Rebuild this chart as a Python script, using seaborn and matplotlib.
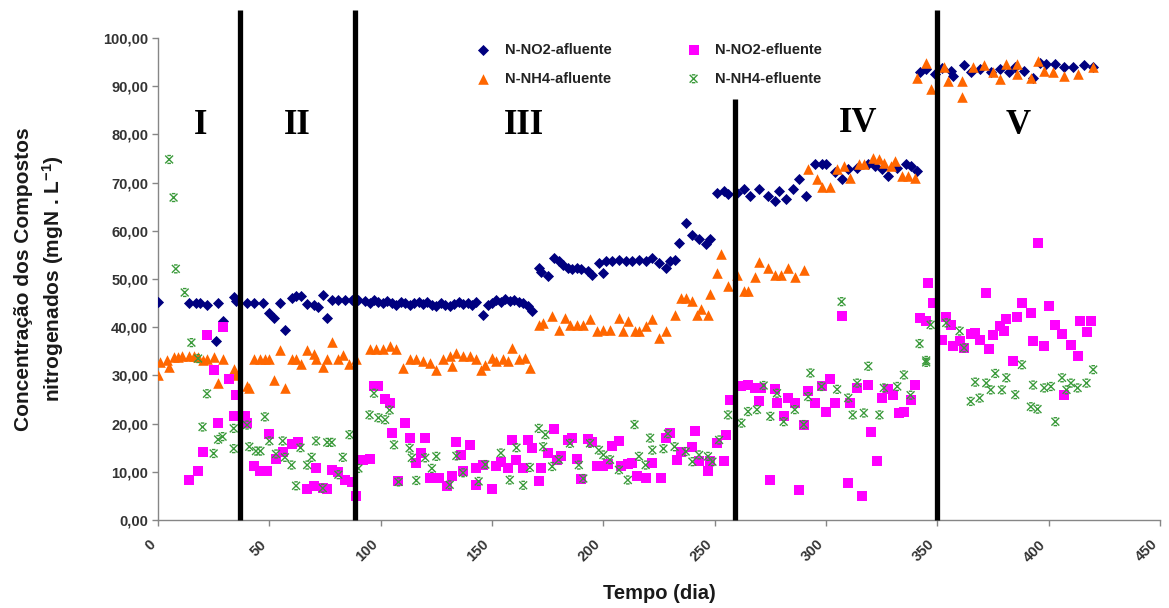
import matplotlib
matplotlib.use("Agg")
import matplotlib.pyplot as plt
from matplotlib.path import Path
from matplotlib.transforms import ScaledTranslation
import pandas as pd
import seaborn as sns

# ---- N-NO2 afluente ----
no2_afl_dia = [0, 14, 17, 19, 22, 26, 27, 29, 34, 35, 40, 43, 47, 50, 52, 55, 57, 60, 62, 64,
               67, 70, 72, 74, 76, 78, 81, 84, 87, 90,
               93, 95, 97, 99, 101, 103, 105, 107, 109, 111, 113, 115, 117, 119, 121, 123, 125,
               127, 129, 131, 133, 135, 137, 139, 141, 143, 146, 148, 150, 152, 154, 156, 158,
               160, 162, 164, 166, 168,
               171, 172, 175, 178, 180, 182, 184, 186, 188, 190, 193, 195, 198, 200, 201, 204,
               207, 210, 213, 216, 219, 222, 225, 228, 230, 232, 234, 237, 240, 243, 246, 248,
               251, 254, 256,
               260, 263, 266, 270, 274, 277, 279, 282, 285, 288, 291, 295, 298, 300, 304, 307,
               310, 314, 319, 322, 325, 328, 332, 336, 338, 341,
               342, 345, 349, 352, 356, 357, 362, 365, 369, 374, 378, 382, 385, 389, 393, 396,
               399, 403, 407, 411, 416, 420]
no2_afl_val = [45.3, 45.0, 45.0, 45.0, 44.6, 37.1, 45.0, 41.2, 46.3, 45.4, 45.0, 45.0, 45.0, 43.0,
               41.9, 45.0, 39.5, 46.0, 46.5, 46.4,
               44.8, 44.6, 44.1, 46.6, 41.9, 45.6, 45.6, 45.6, 45.6, 45.6,
               45.4, 45.0, 45.6, 45.3, 45.0, 45.4, 45.0, 44.6, 45.3, 45.0, 44.6, 45.0, 45.3, 44.8,
               45.2, 44.6, 44.5, 45.0, 44.6, 44.3, 44.8, 45.2, 44.8, 45.0, 44.6, 45.2, 42.6, 44.6,
               45.0, 45.6, 45.3, 45.8, 45.4, 45.6, 45.3, 45.0, 44.3, 43.3,
               52.3, 51.5, 50.7, 54.4, 53.7, 53.0, 52.3, 52.0, 52.3, 52.0, 51.6, 50.9, 53.3, 51.3,
               53.7, 53.7, 54.0, 53.7, 53.7, 54.0, 53.7, 54.4, 53.3, 52.3, 53.7, 54.0, 57.5, 61.7,
               59.2, 58.2, 57.2, 58.2, 67.9, 68.3, 67.6,
               67.9, 68.6, 67.2, 68.6, 67.2, 66.2, 68.2, 66.5, 68.6, 70.7, 67.2, 73.8, 73.8, 73.8,
               72.1, 70.7, 72.8, 73.1, 73.8, 73.5, 72.8, 71.4, 73.1, 73.8, 73.5, 72.4,
               92.9, 93.5, 92.5, 93.8, 93.2, 92.2, 94.5, 93.0, 93.5, 92.9, 93.5, 92.9, 94.0, 93.2,
               91.8, 94.9, 94.6, 94.6, 93.9, 93.9, 94.3, 93.9]

# ---- N-NH4 afluente ----
nh4_afl_dia = [0, 1, 4, 5, 7, 9, 11, 14, 16, 18, 20, 22, 25, 27, 29, 34, 35, 40, 41, 43, 46, 48,
               50, 52, 55, 57, 60, 62, 64, 67, 70, 71, 74, 76, 78, 81, 83, 86, 89,
               95, 98, 101, 104, 107, 110, 113, 116, 119, 122, 125, 128, 131, 132, 134, 137, 140,
               143, 145, 147, 150, 152, 155, 157, 159, 162, 165, 167,
               171, 173, 177, 180, 183, 185, 188, 191, 194, 197, 200, 203, 207, 209, 211, 214,
               216, 219, 222, 225, 228, 232, 235, 237, 240, 242, 244, 247, 248, 251, 253, 256,
               260, 263, 265, 268, 270, 274, 277, 280, 283, 286, 290,
               292, 296, 298, 302, 305, 308, 311, 315, 317, 321, 324, 326, 329, 331, 334, 337, 340,
               341, 345, 347, 353, 355, 361, 361, 366, 371, 375, 378, 381, 386, 386, 392, 395,
               398, 402, 407, 413, 420]
nh4_afl_val = [30.1, 32.8, 33.2, 31.8, 33.9, 33.9, 34.0, 34.0, 34.0, 33.9, 33.2, 33.4, 33.9, 28.4,
               33.5, 31.4, 30.1, 27.7, 27.4, 33.5, 33.5, 33.5, 33.5, 29.1, 35.2, 27.4, 33.5, 33.5,
               32.3, 35.2, 34.5, 33.5, 31.8, 33.4, 37.0, 33.5, 34.2, 32.4, 33.3,
               35.4, 35.4, 35.5, 36.0, 35.5, 31.5, 33.3, 33.3, 33.0, 32.6, 31.2, 33.3, 34.0, 31.9,
               34.6, 34.0, 34.0, 33.3, 31.2, 32.2, 33.6, 32.9, 33.3, 32.9, 35.7, 33.3, 33.6, 31.5,
               40.5, 40.9, 42.3, 39.5, 41.9, 40.5, 40.5, 40.5, 41.6, 39.2, 39.5, 39.5, 41.9, 39.2,
               41.2, 39.2, 39.2, 40.2, 41.6, 37.8, 39.2, 42.6, 46.1, 46.1, 45.4, 42.6, 43.7, 42.6,
               46.8, 51.3, 55.1, 48.5,
               50.9, 47.5, 47.5, 50.5, 53.6, 52.2, 50.9, 50.9, 52.2, 50.5, 51.9,
               72.8, 70.7, 69.0, 69.0, 72.8, 73.5, 71.0, 73.8, 73.8, 75.2, 74.8, 74.1, 73.5, 74.5,
               71.4, 71.4, 71.0,
               91.8, 94.9, 89.4, 93.9, 91.1, 91.1, 87.7, 93.9, 94.3, 92.9, 91.5, 94.6, 92.6, 94.6,
               91.8, 95.3, 93.2, 92.9, 92.2, 92.6, 93.9]

# ---- N-NO2 efluente ----
no2_efl_dia = [14, 18, 20, 22, 25, 27, 29, 32, 34, 35, 39, 40, 43, 46, 49, 50, 53, 56, 60, 63,
               67, 70, 71, 74, 76, 78, 81, 84, 87, 89,
               92, 95, 97, 99, 102, 104, 105, 108, 111, 113, 116, 118, 120, 122, 126, 130, 132,
               134, 136, 137, 140, 143, 143, 146, 150, 152, 154, 157, 159, 161, 164, 166, 168,
               171, 172,
               175, 178, 179, 181, 184, 186, 188, 190, 193, 195, 197, 200, 202, 204, 207, 208,
               211, 213, 215, 219, 222, 226, 228, 230, 233, 235, 240, 241, 243, 247, 248, 251,
               254, 255, 257,
               262, 265, 268, 271, 270, 275, 277, 278, 281, 283, 286, 288, 290, 292, 295, 298,
               300, 302, 304, 307, 310, 311, 314, 316, 319, 320, 323, 325, 328, 330, 333, 335,
               338, 340, 342, 345,
               346, 348, 352, 354, 356, 357, 360, 362, 365, 367, 369, 372, 373, 375, 378, 380,
               381, 384, 386, 388, 392, 393, 395, 398, 400, 403, 406, 407, 410, 413, 414, 417, 419]
no2_efl_val = [8.2, 10.1, 14.2, 38.3, 31.2, 20.1, 40.1, 29.2, 21.5, 25.9, 21.5, 20.1, 11.3, 10.1,
               10.1, 17.8, 12.7, 14.2, 15.7, 16.1, 6.4, 7.0, 10.8, 6.6, 6.4, 10.4, 9.9, 8.2, 7.8, 5.0,
               12.5, 12.6, 27.7, 27.7, 25.1, 24.3, 18.1, 8.0, 20.1, 17.0, 11.8, 14.0, 17.0, 8.8,
               8.8, 7.1, 9.2, 16.1, 13.5, 10.1, 15.5, 10.7, 7.3, 11.4, 6.5, 11.1, 12.1, 10.7,
               16.7, 12.5, 10.7, 16.7, 15.0, 8.0, 10.7,
               13.8, 18.8, 12.5, 13.2, 16.6, 17.0, 12.7, 8.6, 16.9, 16.2, 11.2, 11.2, 11.6, 15.3,
               16.3, 11.2, 11.6, 11.9, 9.2, 8.8, 11.9, 8.8, 17.0, 18.0, 12.5, 14.2, 15.2, 18.4,
               12.2, 10.1, 12.2, 16.0, 12.2, 17.7, 25.0,
               27.7, 28.1, 27.4, 27.4, 24.6, 8.3, 27.1, 24.3, 21.5, 25.3, 24.3, 6.2, 19.8, 26.7,
               24.3, 27.7, 22.5, 29.2, 24.3, 42.3, 7.6, 24.3, 27.4, 5.0, 28.1, 18.2, 12.2, 25.3,
               27.1, 26.0, 22.2, 22.5, 25.0, 28.1, 42.0, 41.2,
               49.2, 45.0, 37.4, 42.2, 40.5, 36.1, 37.1, 35.7, 38.5, 38.8, 37.4, 47.1, 35.5, 38.3,
               40.3, 39.2, 41.6, 32.9, 42.2, 45.1, 43.0, 37.1, 57.5, 36.0, 44.4, 40.5, 38.5, 26.0,
               36.4, 34.1, 41.2, 39.1, 41.2]

# ---- N-NH4 efluente ----
nh4_efl_dia = [5, 7, 8, 12, 15, 18, 22, 20, 25, 27, 29, 34, 34, 40, 41, 44, 46, 48, 50, 53, 56,
               57, 60, 62, 64, 67, 69, 71, 74, 76, 78, 81, 83, 86,
               90, 95, 97, 99, 102, 104, 106, 108, 113, 114, 116, 120, 123, 125, 131, 134, 137,
               144, 147, 154, 158, 161, 164, 167,
               171, 173, 174, 177, 180, 185, 189, 191, 194, 198, 200, 203, 207, 211, 214, 216,
               219, 221, 222, 227, 229, 232, 237, 240, 243, 247, 249, 252, 256,
               262, 265, 269, 272, 275, 278, 281, 286, 290, 292, 293, 298, 305, 307, 310, 312,
               314, 317, 319, 324, 326, 332, 335, 338, 342, 345,
               347, 345, 354, 360, 362, 365, 367, 369, 372, 374, 376, 379, 381, 385, 388, 392,
               393, 395, 398, 401, 403, 406, 408, 410, 413, 417, 420]
nh4_efl_val = [74.8, 66.9, 52.1, 47.2, 36.8, 33.5, 26.2, 19.3, 13.8, 16.7, 17.3, 19.0, 14.8, 19.7,
               15.2, 14.3, 14.3, 21.4, 16.4, 13.7, 16.4, 13.0, 11.4, 7.1, 15.0, 11.4, 13.0, 16.4,
               6.6, 16.1, 16.1, 9.4, 13.0, 17.7,
               10.7, 21.8, 26.3, 21.2, 20.8, 22.8, 15.6, 7.9, 14.9, 12.9, 8.2, 12.9, 10.7, 13.2,
               7.3, 13.3, 9.8, 8.0, 11.5, 13.9, 8.3, 15.0, 7.2, 10.9,
               19.0, 15.2, 17.7, 11.1, 12.5, 15.9, 11.4, 8.6, 15.9, 14.5, 13.5, 12.5, 10.4, 8.3,
               19.8, 13.2, 11.4, 17.0, 14.5, 14.8, 17.9, 15.2, 14.2, 12.1, 13.5, 13.2, 12.1,
               16.6, 21.8,
               20.1, 22.5, 22.9, 27.9, 21.5, 26.3, 20.4, 22.9, 19.8, 25.6, 30.5, 27.7, 27.1, 45.3,
               25.3, 21.8, 28.4, 22.2, 31.9, 21.8, 27.4, 27.7, 30.1, 25.9, 36.6, 32.7,
               40.5, 33.1, 40.9, 39.2, 35.7, 24.6, 28.6, 25.3, 28.4, 27.0, 30.4, 27.0, 29.5, 26.0,
               32.2, 23.5, 28.0, 23.0, 27.4, 27.7, 20.4, 29.5, 27.0, 28.4, 27.4, 28.4, 31.2]

# Phase boundaries (days) and phase labels
fase_limites = [37, 88.5, 259, 350]
fase_topo = [105.8, 105.8, 87.3, 105.8]
fase_nomes = ["I", "II", "III", "IV", "V"]
fase_pos_x = [19, 62.5, 164.5, 314.5, 386.5]
fase_pos_y = [81.8, 81.8, 81.8, 82.2, 81.8]

x_ticks = [0, 50, 100, 150, 200, 250, 300, 350, 400, 450]
y_ticks = [0, 10, 20, 30, 40, 50, 60, 70, 80, 90, 100]
y_tick_labels = [f"{v:.2f}".replace(".", ",") for v in y_ticks]

series = [
    ("N-NO2-afluente", no2_afl_dia, no2_afl_val),
    ("N-NH4-afluente", nh4_afl_dia, nh4_afl_val),
    ("N-NO2-efluente", no2_efl_dia, no2_efl_val),
    ("N-NH4-efluente", nh4_efl_dia, nh4_efl_val),
]

sns.set_style("white")
plt.rcParams["font.family"] = ["Liberation Sans", "DejaVu Sans"]
plt.rcParams["mathtext.fontset"] = "custom"
plt.rcParams["mathtext.rm"] = "Liberation Sans:bold"
plt.rcParams["mathtext.it"] = "Liberation Sans:bold"
plt.rcParams["mathtext.bf"] = "Liberation Sans:bold"

fig = plt.figure(figsize=(11.69, 6.08), dpi=100)
W, H = 1169, 608
ax = fig.add_axes([158 / W, 1 - 520 / H, (1160 - 158) / W, (520 - 38) / H])

# X-with-bars marker for the ammonium effluent series
x_bar = Path(
    [(-1, -1), (1, 1), (-1, 1), (1, -1), (-0.45, 1), (0.45, 1), (-0.45, -1), (0.45, -1)],
    [Path.MOVETO, Path.LINETO] * 4,
)

estilos = {
    "N-NO2-afluente": dict(marker="D", s=32, color="#00007f", linewidth=0),
    "N-NH4-afluente": dict(marker="^", s=58, color="#ff6600", linewidth=0),
    "N-NO2-efluente": dict(marker="s", s=42, color="#ff00ff", linewidth=0),
    "N-NH4-efluente": dict(marker=x_bar, s=32, color="#3a9a3a", edgecolor="#3a9a3a",
                           facecolor="none", linewidth=1.0),
}

for nome, dias, vals in series:
    df = pd.DataFrame({"Tempo (dia)": dias, "conc": vals})
    sns.scatterplot(data=df, x="Tempo (dia)", y="conc", ax=ax, label=nome,
                    legend=False, zorder=3, **estilos[nome])

ax.set_xlim(0, 450)
ax.set_ylim(0, 100)

# Phase separators
for xb, top in zip(fase_limites, fase_topo):
    ax.vlines(xb, 0, top, colors="black", linewidth=3.8, clip_on=False, zorder=4)

for nome, px, py in zip(fase_nomes, fase_pos_x, fase_pos_y):
    ax.text(px, py, nome, family="Liberation Serif", fontweight="bold", fontsize=25,
            ha="center", va="center", color="black", zorder=5)

# Axes styling
for side in ("top", "right"):
    ax.spines[side].set_visible(False)
for side in ("left", "bottom"):
    ax.spines[side].set_color("#868686")
    ax.spines[side].set_linewidth(1.0)

ax.set_xticks(x_ticks)
ax.set_xticklabels([str(v) for v in x_ticks])
ax.set_yticks(y_ticks)
ax.set_yticklabels(y_tick_labels)
ax.tick_params(axis="both", which="major", bottom=True, left=True, direction="out",
               length=4, width=1, color="#868686", labelsize=10.5, labelcolor="#333333")
ax.tick_params(axis="x", pad=12)
ax.tick_params(axis="y", pad=3)
for lab in ax.get_yticklabels():
    lab.set_fontweight("bold")
for lab in ax.get_xticklabels():
    lab.set_fontweight("bold")
    lab.set_rotation(45)
    lab.set_rotation_mode("anchor")
    lab.set_ha("right")
    lab.set_va("center")
    lab.set_transform(lab.get_transform() + ScaledTranslation(-5 / 100, 0, fig.dpi_scale_trans))

ax.set_xlabel("Tempo (dia)", fontsize=14.5, fontweight="bold", color="#1a1a1a")
ax.xaxis.set_label_coords(0.5, -0.133)
ax.set_ylabel("Concentração dos Compostos\nnitrogenados (mgN . L$^{-1}$)", fontsize=15,
              fontweight="bold", color="#1a1a1a", linespacing=1.35)
ax.yaxis.set_label_coords(-0.092, 0.5)

leg = ax.legend(loc="upper left", bbox_to_anchor=(476 / W, 1 - 43 / H),
                bbox_transform=fig.transFigure, ncol=2, frameon=False, fontsize=10.5,
                handlelength=1.0, handletextpad=1.0, columnspacing=5.1, labelspacing=1.0,
                borderpad=0, borderaxespad=0, scatterpoints=1)
for t in leg.get_texts():
    t.set_fontweight("bold")
    t.set_color("#222222")

fig.savefig("out.png", dpi=100, facecolor="white")
